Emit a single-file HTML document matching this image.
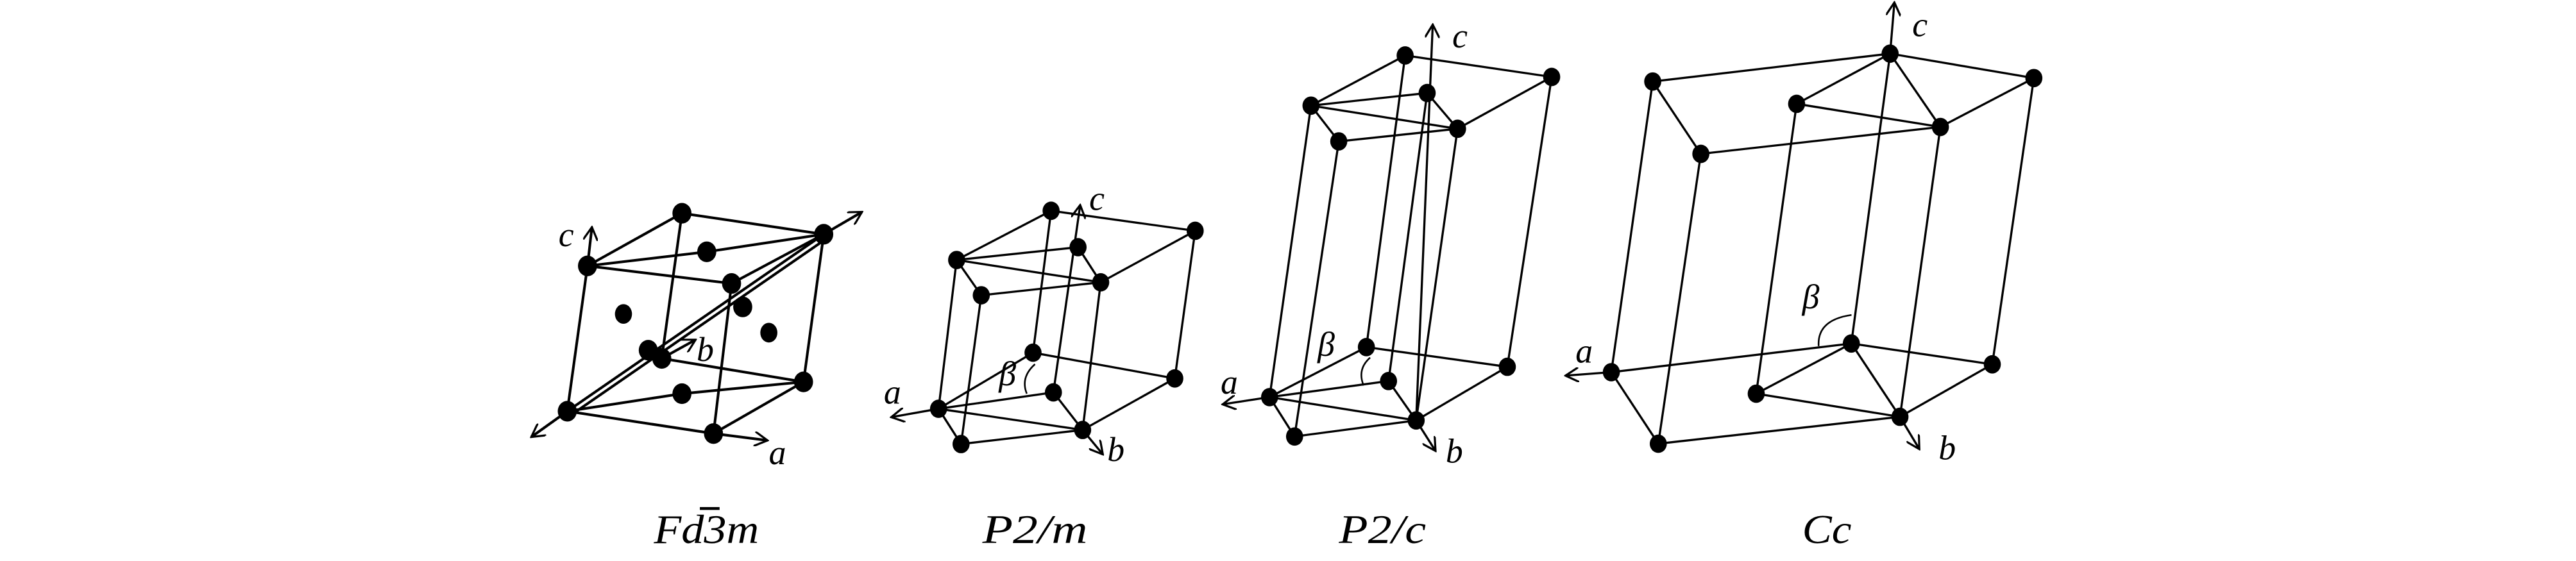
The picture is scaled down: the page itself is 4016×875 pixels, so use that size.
<!DOCTYPE html>
<html><head><meta charset="utf-8"><style>
html,body{margin:0;padding:0;background:#fff;}
svg{display:block;}
text{font-family:"Liberation Serif",serif;font-style:italic;fill:#000;}
</style></head><body>
<svg width="4016" height="875" viewBox="0 0 1568 342" preserveAspectRatio="none" xmlns="http://www.w3.org/2000/svg">
<defs>
<marker id="ar" viewBox="0 0 10 10" refX="9" refY="5" markerWidth="9" markerHeight="9" markerUnits="userSpaceOnUse" orient="auto">
<path d="M0,0 L9,5 L0,10" fill="none" stroke="#000" stroke-width="1.4"/>
</marker>
</defs>
<rect width="1568" height="342" fill="#fff"/>

<!-- Fd3m -->
<g stroke="#000" stroke-width="1.6" fill="none">
<path d="M357.6,162.1 L415.1,130 L501.4,142.8 M357.6,162.1 L430.2,153.5 L501.4,142.8 M357.6,162.1 L445.3,172.8 L501.4,142.8"/>
<path d="M357.6,162.1 L345.3,250.7 M415.1,130 L402.8,218.5 M501.4,142.8 L489.1,232.8 M445.3,172.8 L434.3,264.3"/>
<path d="M345.3,250.7 L415.1,240 L489.1,232.8 M345.3,250.7 L434.3,264.3 L489.1,232.8 M402.8,218.5 L489.1,232.8"/>
<path d="M345.3,250.7 L501.4,142.8 M347.3,253.2 L503,145.5"/>
<path d="M357.6,162.1 L360.3,138.5" marker-end="url(#ar)"/>
<path d="M434.3,264.3 L467.2,268.5" marker-end="url(#ar)"/>
<path d="M402.8,218.5 L423.4,207.1" marker-end="url(#ar)"/>
<path d="M345.3,250.7 L323.4,266.4" marker-end="url(#ar)"/>
<path d="M501.4,142.8 L524.7,129.2" marker-end="url(#ar)"/>
</g>
<g fill="#000">
<ellipse cx="415.1" cy="130" rx="5.8" ry="6.3"/><ellipse cx="501.4" cy="142.8" rx="5.8" ry="6.3"/>
<ellipse cx="357.6" cy="162.1" rx="5.8" ry="6.3"/><ellipse cx="445.3" cy="172.8" rx="5.8" ry="6.3"/>
<ellipse cx="430.2" cy="153.5" rx="5.8" ry="6.3"/><ellipse cx="379.5" cy="191.4" rx="5.2" ry="6"/>
<ellipse cx="452.1" cy="187.1" rx="5.8" ry="6.3"/><ellipse cx="468" cy="202.8" rx="5.2" ry="6"/>
<ellipse cx="394.6" cy="213.5" rx="5.8" ry="6.3"/><ellipse cx="402.8" cy="218.5" rx="5.8" ry="6.3"/>
<ellipse cx="489.1" cy="232.8" rx="5.8" ry="6.3"/><ellipse cx="415.1" cy="240" rx="5.8" ry="6.3"/>
<ellipse cx="345.3" cy="250.7" rx="5.8" ry="6.3"/><ellipse cx="434.3" cy="264.3" rx="5.8" ry="6.3"/>
</g>
<text x="340" y="150" font-size="21">c</text>
<text x="424" y="220" font-size="21">b</text>
<text x="468" y="283" font-size="21">a</text>
<text x="398" y="331" font-size="25" textLength="64" lengthAdjust="spacingAndGlyphs">Fd3m</text>
<line x1="426" y1="310" x2="438" y2="310" stroke="#000" stroke-width="1.8"/>

<!-- P2/m -->
<g stroke="#000" stroke-width="1.3" fill="none">
<path d="M639.8,128.5 L727.5,140.7 M639.8,128.5 L582.3,158.5 L656.2,150.7 M582.3,158.5 L670,172.1 L727.5,140.7 M582.3,158.5 L597.3,180 L670,172.1 M656.2,150.7 L670,172.1"/>
<path d="M639.8,128.5 L628.8,215 M727.5,140.7 L715.1,230.7 M582.3,158.5 L571.3,249.2 M670,172.1 L659,262.1 M597.3,180 L585,270.7"/>
<path d="M628.8,215 L715.1,230.7 M628.8,215 L571.3,249.2 L641.2,239.2 M571.3,249.2 L659,262.1 L715.1,230.7 M571.3,249.2 L585,270.7 L659,262.1 M641.2,239.2 L659,262.1"/>
<path d="M641.2,239.2 L657.5,125" marker-end="url(#ar)"/>
<path d="M571.3,249.2 L542.5,254.3" marker-end="url(#ar)"/>
<path d="M659,262.1 L671.3,277" marker-end="url(#ar)"/>
<path d="M625,240 Q621,230 630,222" stroke-width="1"/>
</g>
<g fill="#000">
<ellipse cx="639.8" cy="128.5" rx="5.2" ry="5.6"/><ellipse cx="727.5" cy="140.7" rx="5.2" ry="5.6"/>
<ellipse cx="582.3" cy="158.5" rx="5.2" ry="5.6"/><ellipse cx="656.2" cy="150.7" rx="5.2" ry="5.6"/>
<ellipse cx="670" cy="172.1" rx="5.2" ry="5.6"/><ellipse cx="597.3" cy="180" rx="5.2" ry="5.6"/>
<ellipse cx="628.8" cy="215" rx="5.2" ry="5.6"/><ellipse cx="715.1" cy="230.7" rx="5.2" ry="5.6"/>
<ellipse cx="571.3" cy="249.2" rx="5.2" ry="5.6"/><ellipse cx="641.2" cy="239.2" rx="5.2" ry="5.6"/>
<ellipse cx="659" cy="262.1" rx="5.2" ry="5.6"/><ellipse cx="585" cy="270.7" rx="5.2" ry="5.6"/>
</g>
<text x="663" y="128" font-size="21">c</text>
<text x="538" y="246" font-size="21">a</text>
<text x="674" y="281" font-size="21">b</text>
<text x="608" y="235" font-size="21">β</text>
<text x="598" y="331" font-size="25" textLength="64" lengthAdjust="spacingAndGlyphs">P2/m</text>

<!-- P2/c -->
<g stroke="#000" stroke-width="1.3" fill="none">
<path d="M855.3,33.8 L944.5,46.9 M855.3,33.8 L798,64.4 L868.7,56.7 M798,64.4 L887.2,78.5 L944.5,46.9 M798,64.4 L814.9,86.2 L887.2,78.5 M868.7,56.7 L887.2,78.5"/>
<path d="M855.3,33.8 L831.7,211.6 M944.5,46.9 L917.5,223.6 M798,64.4 L772.8,242.1 M887.2,78.5 L862,256.3 M814.9,86.2 L788,266.1 M868.7,56.7 L845.2,232.3"/>
<path d="M831.7,211.6 L917.5,223.6 M831.7,211.6 L772.8,242.1 L845.2,232.3 M772.8,242.1 L862,256.3 L917.5,223.6 M772.8,242.1 L788,266.1 L862,256.3 M845.2,232.3 L862,256.3"/>
<path d="M862,256.3 L872.1,15" marker-end="url(#ar)"/>
<path d="M772.8,242.1 L744.2,246.5" marker-end="url(#ar)"/>
<path d="M862,256.3 L873.8,274.9" marker-end="url(#ar)"/>
<path d="M830,235 Q826,225 834,218" stroke-width="1"/>
</g>
<g fill="#000">
<ellipse cx="855.3" cy="33.8" rx="5.2" ry="5.6"/><ellipse cx="944.5" cy="46.9" rx="5.2" ry="5.6"/>
<ellipse cx="798" cy="64.4" rx="5.2" ry="5.6"/><ellipse cx="868.7" cy="56.7" rx="5.2" ry="5.6"/>
<ellipse cx="887.2" cy="78.5" rx="5.2" ry="5.6"/><ellipse cx="814.9" cy="86.2" rx="5.2" ry="5.6"/>
<ellipse cx="831.7" cy="211.6" rx="5.2" ry="5.6"/><ellipse cx="917.5" cy="223.6" rx="5.2" ry="5.6"/>
<ellipse cx="772.8" cy="242.1" rx="5.2" ry="5.6"/><ellipse cx="845.2" cy="232.3" rx="5.2" ry="5.6"/>
<ellipse cx="862" cy="256.3" rx="5.2" ry="5.6"/><ellipse cx="788" cy="266.1" rx="5.2" ry="5.6"/>
</g>
<text x="884" y="29" font-size="21">c</text>
<text x="743" y="240" font-size="21">a</text>
<text x="880" y="282" font-size="21">b</text>
<text x="802" y="217" font-size="21">β</text>
<text x="815" y="331" font-size="25" textLength="53" lengthAdjust="spacingAndGlyphs">P2/c</text>

<!-- Cc -->
<g stroke="#000" stroke-width="1.3" fill="none">
<path d="M1006,49.7 L1150.5,32.7 L1238,47.6 M1150.5,32.7 L1093.6,63.3 L1181.1,77.4 L1150.5,32.7 M1238,47.6 L1181.1,77.4 M1006,49.7 L1035.3,93.8 L1181.1,77.4"/>
<path d="M1006,49.7 L980.8,226.9 M1035.3,93.8 L1009.4,270.5 M1150.5,32.7 L1126.9,209.4 M1181.1,77.4 L1156.5,254.1 M1238,47.6 L1212.7,222.1 M1093.6,63.3 L1069,240"/>
<path d="M980.8,226.9 L1126.9,209.4 L1212.7,222.1 M1126.9,209.4 L1069,240 L1156.5,254.1 L1126.9,209.4 M1212.7,222.1 L1156.5,254.1 M980.8,226.9 L1009.4,270.5 L1156.5,254.1"/>
<path d="M1150.5,32.7 L1153.1,1.5" marker-end="url(#ar)"/>
<path d="M980.8,226.9 L952.9,229" marker-end="url(#ar)"/>
<path d="M1156.5,254.1 L1168.3,273.8" marker-end="url(#ar)"/>
<path d="M1107,211 Q1106,195 1127,192" stroke-width="1"/>
</g>
<g fill="#000">
<ellipse cx="1150.5" cy="32.7" rx="5.2" ry="5.6"/><ellipse cx="1238" cy="47.6" rx="5.2" ry="5.6"/>
<ellipse cx="1006" cy="49.7" rx="5.2" ry="5.6"/><ellipse cx="1093.6" cy="63.3" rx="5.2" ry="5.6"/>
<ellipse cx="1181.1" cy="77.4" rx="5.2" ry="5.6"/><ellipse cx="1035.3" cy="93.8" rx="5.2" ry="5.6"/>
<ellipse cx="1126.9" cy="209.4" rx="5.2" ry="5.6"/><ellipse cx="1212.7" cy="222.1" rx="5.2" ry="5.6"/>
<ellipse cx="980.8" cy="226.9" rx="5.2" ry="5.6"/><ellipse cx="1069" cy="240" rx="5.2" ry="5.6"/>
<ellipse cx="1156.5" cy="254.1" rx="5.2" ry="5.6"/><ellipse cx="1009.4" cy="270.5" rx="5.2" ry="5.6"/>
</g>
<text x="1164" y="22" font-size="21">c</text>
<text x="959" y="221" font-size="21">a</text>
<text x="1180" y="280" font-size="21">b</text>
<text x="1097" y="188" font-size="21">β</text>
<text x="1097" y="331" font-size="25" textLength="30" lengthAdjust="spacingAndGlyphs">Cc</text>
</svg>
</body></html>
